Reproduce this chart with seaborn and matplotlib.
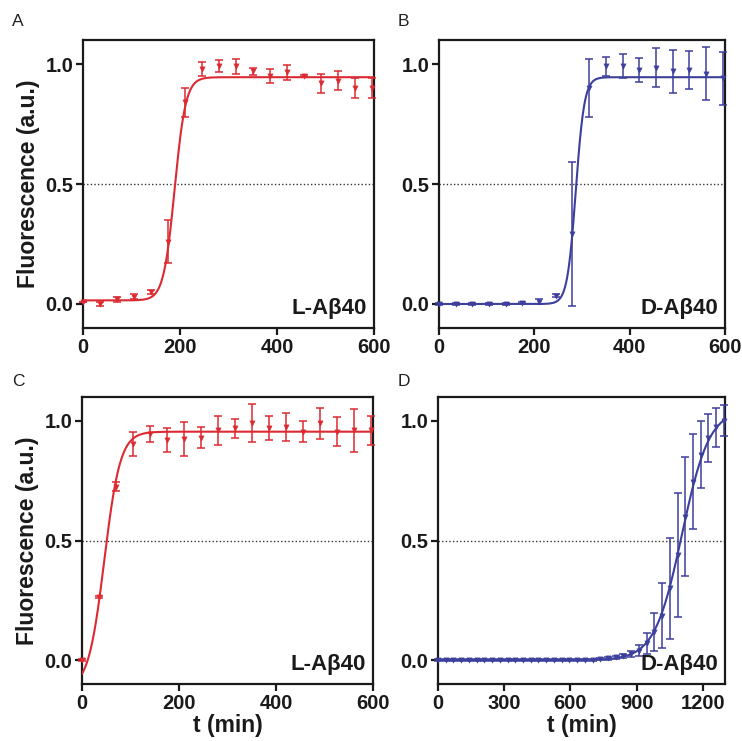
import numpy as np
import pandas as pd
import seaborn as sns
import matplotlib
matplotlib.use("Agg")
import matplotlib.pyplot as plt

sns.set_theme(style="ticks")
plt.rcParams['font.family'] = ['Liberation Sans', 'DejaVu Sans']

RED = '#dc2a32'
BLUE = '#3d3f9c'
INK = '#1a1a1a'

# ---------------- data ----------------
t_A = [0, 35, 70, 105, 140, 175, 210, 245, 280, 315, 350, 385, 420, 455, 490, 525, 560, 595]
y_A = [0.01, 0.0, 0.02, 0.03, 0.05, 0.26, 0.84, 0.98, 0.99, 0.99, 0.97, 0.95, 0.965, 0.95, 0.92, 0.93, 0.90, 0.90]
e_A = [0.0, 0.01, 0.01, 0.01, 0.01, 0.09, 0.06, 0.03, 0.025, 0.03, 0.015, 0.03, 0.03, 0.005, 0.04, 0.04, 0.04, 0.04]
fit_A = dict(bottom=0.015, top=0.945, t50=189, k=11.5)

t_B = [0, 35, 70, 105, 140, 175, 210, 245, 280, 315, 350, 385, 420, 455, 490, 525, 560, 595]
y_B = [0.0, 0.0, 0.0, 0.0, 0.0, 0.005, 0.01, 0.035, 0.29, 0.90, 0.99, 0.99, 0.975, 0.985, 0.97, 0.975, 0.96, 0.94]
e_B = [0.005, 0.005, 0.005, 0.005, 0.005, 0.005, 0.01, 0.005, 0.30, 0.12, 0.04, 0.05, 0.05, 0.08, 0.09, 0.08, 0.11, 0.11]
fit_B = dict(bottom=0.0, top=0.945, t50=287, k=9)

t_C = [0, 35, 70, 105, 140, 175, 210, 245, 280, 315, 350, 385, 420, 455, 490, 525, 560, 595]
y_C = [0.0, 0.265, 0.725, 0.905, 0.945, 0.92, 0.925, 0.93, 0.96, 0.97, 0.99, 0.97, 0.975, 0.955, 0.99, 0.955, 0.96, 0.96]
e_C = [0.005, 0.005, 0.02, 0.05, 0.035, 0.05, 0.07, 0.045, 0.06, 0.04, 0.08, 0.05, 0.06, 0.045, 0.065, 0.06, 0.09, 0.06]
fit_C = dict(bottom=-0.12, top=0.955, t50=46, k=16.5)

t_D = [0, 35, 70, 105, 140, 175, 210, 245, 280, 315, 350, 385, 420, 455, 490, 525,
       560, 595, 630, 665, 700, 735, 770, 805, 840, 875, 910, 945, 980, 1015, 1050,
       1085, 1120, 1155, 1190, 1225, 1260, 1295]
y_D = [0.0, 0.0, 0.0, 0.0, 0.0, 0.0, 0.0, 0.0, 0.0, 0.0, 0.0, 0.0, 0.0, 0.0, 0.0, 0.0,
       0.0, 0.0, 0.0, 0.0, 0.002, 0.004, 0.007, 0.011, 0.017, 0.025, 0.04, 0.07, 0.118, 0.186, 0.30,
       0.44, 0.60, 0.746, 0.858, 0.927, 0.973, 1.0]
e_D = [0.003, 0.003, 0.003, 0.003, 0.003, 0.003, 0.003, 0.003, 0.003, 0.003, 0.003, 0.003, 0.003, 0.003, 0.003, 0.003,
       0.003, 0.003, 0.003, 0.003, 0.004, 0.005, 0.006, 0.008, 0.01, 0.012, 0.022, 0.045, 0.08, 0.137, 0.21,
       0.26, 0.25, 0.20, 0.14, 0.10, 0.08, 0.065]
fit_D = dict(bottom=0.0, top=1.05, t50=1105, k=62)

labels = ['L-Aβ40', 'D-Aβ40', 'L-Aβ40', 'D-Aβ40']
panel_letters = ['A', 'B', 'C', 'D']
xticks_600 = [0, 200, 400, 600]
xticks_1300 = [0, 300, 600, 900, 1200]
yticks = [0.0, 0.5, 1.0]


def boltzmann(t, bottom, top, t50, k):
    return bottom + (top - bottom) / (1 + np.exp(-(t - t50) / k))


W, H = 742, 741
fig = plt.figure(figsize=(W / 100, H / 100), dpi=100)
fig.patch.set_facecolor('white')


def make_ax(l, t, r, b):
    return fig.add_axes([l / W, 1 - b / H, (r - l) / W, (b - t) / H])

axes = [make_ax(83, 40, 374, 328), make_ax(439, 40, 725, 328),
        make_ax(82, 397, 373, 684), make_ax(438, 397, 725, 684)]

panels = [(t_A, y_A, e_A, fit_A, RED, 600, xticks_600),
          (t_B, y_B, e_B, fit_B, BLUE, 600, xticks_600),
          (t_C, y_C, e_C, fit_C, RED, 600, xticks_600),
          (t_D, y_D, e_D, fit_D, BLUE, 1300, xticks_1300)]

for i, (ax, (t, y, e, fit, col, xmax, xt)) in enumerate(zip(axes, panels)):
    ax.set_facecolor('white')
    ax.axhline(0.5, color='#333333', lw=1.0, ls=(0, (1, 1.6)), zorder=1)
    tt = np.linspace(0, xmax, 600)
    curve = pd.DataFrame({'t': tt, 'y': boltzmann(tt, **fit)})
    sns.lineplot(data=curve, x='t', y='y', ax=ax, color=col, lw=1.5, zorder=3)
    ax.errorbar(t, y, yerr=e, fmt='none', ecolor=col, elinewidth=1.1,
                capsize=2.6, capthick=1.1, zorder=4, clip_on=False)
    pts = pd.DataFrame({'t': t, 'y': y})
    sns.scatterplot(data=pts, x='t', y='y', ax=ax, marker='v', s=14, color=col,
                    edgecolor=col, linewidth=0.4, zorder=5, clip_on=False)
    ax.set_xlim(0, xmax)
    ax.set_ylim(-0.1, 1.1)
    ax.set_xticks(xt)
    ax.set_yticks(yticks)
    ax.set_yticklabels(['0.0', '0.5', '1.0'])
    for s in ax.spines.values():
        s.set_visible(True)
        s.set_color(INK)
        s.set_linewidth(1.6)
    ax.tick_params(direction='out', length=5, width=1.6, color=INK,
                   labelsize=14.5, pad=2)
    for lab in ax.get_xticklabels() + ax.get_yticklabels():
        lab.set_fontweight('bold')
        lab.set_color(INK)
    ax.set_xlabel('t (min)' if i >= 2 else '', fontsize=16.5, fontweight='bold',
                  labelpad=1, color=INK)
    ax.set_ylabel('Fluorescence (a.u.)' if i % 2 == 0 else '', fontsize=16.5,
                  fontweight='bold', labelpad=4, color=INK)
    ax.text(0.975, 0.03, labels[i], transform=ax.transAxes, ha='right', va='bottom',
            fontsize=16, fontweight='bold', color=INK)

letter_pos = [(12, 22), (398, 22), (12, 382), (398, 382)]
for (x, yy), L in zip(letter_pos, panel_letters):
    fig.text(x / W, 1 - yy / H, L, fontsize=12.5, ha='left', va='center', color='#222222')

fig.savefig('out.png', dpi=100, facecolor='white')
